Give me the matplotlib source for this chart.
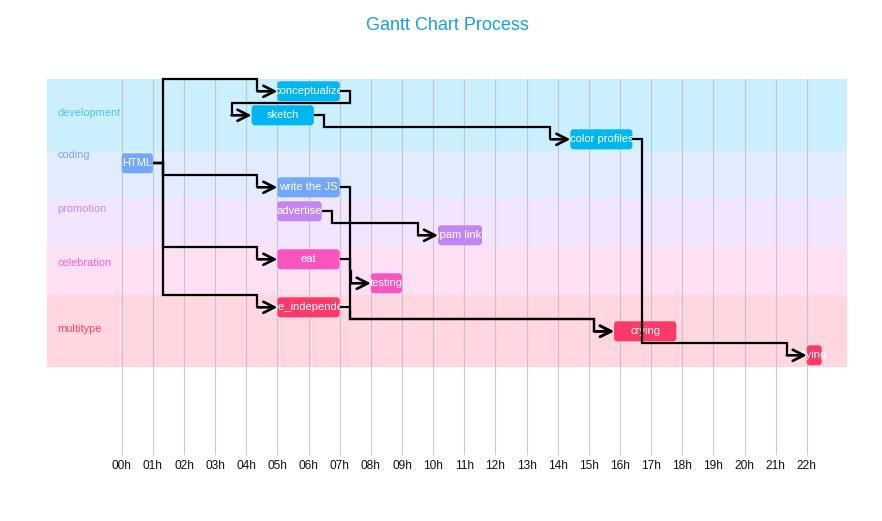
import matplotlib
matplotlib.use("Agg")
import matplotlib.pyplot as plt
from matplotlib.patches import FancyBboxPatch

plt.rcParams['font.family'] = ['Liberation Sans', 'DejaVu Sans']

# ---------------- data ----------------
categories = ['development', 'coding', 'promotion', 'celebration', 'multitype']
cat_rows = [(0, 3), (3, 5), (5, 7), (7, 9), (9, 12)]          # row spans of each group
cat_label_y = [1.40, 3.15, 5.40, 7.65, 10.40]
band_colors = ['#cbeffd', '#e1ecfe', '#f2e5fd', '#fde0f3', '#ffd7e0']
bar_colors = ['#00b6f1', '#72a7f9', '#c286f2', '#f955be', '#fb3a69']
label_colors = ['#4cc4ee', '#7ba9f4', '#c48cf1', '#f565c6', '#f5456f']

tasks = ['conceptualize', 'sketch', 'color profiles', 'HTML', 'write the JS',
         'advertise', 'spam links', 'eat', 'testing', 'type_independent',
         'crying', 'flying']
task_cat = [0, 0, 0, 1, 1, 2, 2, 3, 3, 4, 4, 4]
start_h = [5.0, 4.17, 14.41, 0.0, 5.0, 5.0, 10.16, 5.0, 8.0, 5.0, 15.81, 22.0]
end_h = [7.0, 6.17, 16.40, 1.0, 7.0, 6.42, 11.57, 7.0, 9.0, 7.0, 17.81, 22.48]

dependencies = [
    ('HTML', 'conceptualize'),
    ('HTML', 'write the JS'),
    ('HTML', 'eat'),
    ('HTML', 'type_independent'),
    ('conceptualize', 'sketch'),
    ('sketch', 'color profiles'),
    ('advertise', 'spam links'),
    ('eat', 'testing'),
    ('write the JS', 'crying'),
    ('type_independent', 'crying'),
    ('color profiles', 'flying'),
]

hours = list(range(23))
hour_labels = ['00h', '01h', '02h', '03h', '04h', '05h', '06h', '07h', '08h',
               '09h', '10h', '11h', '12h', '13h', '14h', '15h', '16h', '17h',
               '18h', '19h', '20h', '21h', '22h']

title = 'Gantt Chart Process'

# ---------------- layout ----------------
W, H = 882, 521
PX_H = 31.14      # pixels per hour
PX_R = 24.0       # pixels per row
fig = plt.figure(figsize=(W / 100, H / 100), dpi=100)
ax_left, ax_right, ax_top, ax_bottom = 46.7, 846.7, 79.3, 455.0
ax = fig.add_axes([ax_left / W, 1 - ax_bottom / H,
                   (ax_right - ax_left) / W, (ax_bottom - ax_top) / H])
x0 = (ax_left - 121.7) / PX_H
x1 = (ax_right - 121.7) / PX_H
ybot = (ax_bottom - ax_top) / PX_R
ax.set_xlim(x0, x1)
ax.set_ylim(ybot, 0)
for s in ax.spines.values():
    s.set_visible(False)
ax.set_yticks([])
ax.set_xticks(hours)
ax.set_xticklabels(hour_labels, fontsize=8.6, color='#111111')
ax.tick_params(axis='x', length=0, pad=3.5)

# bands + group labels
for i, (r0, r1) in enumerate(cat_rows):
    ax.axhspan(r0, r1, color=band_colors[i], lw=0, zorder=0)
    ax.text(x0 + 10.5 / PX_H, cat_label_y[i], categories[i], color=label_colors[i],
            fontsize=7.9, ha='left', va='center', zorder=1)

# grid lines
ax.vlines(hours, 0, ybot, colors='#b9bfc6', lw=0.8, alpha=0.8, zorder=1)

# bars
bar_h = 20 / PX_R
for i, t in enumerate(tasks):
    s, e = start_h[i], end_h[i]
    patch = FancyBboxPatch((s, i + (1 - bar_h) / 2), e - s, bar_h,
                           boxstyle='round,pad=0,rounding_size=0.1',
                           mutation_aspect=PX_H / PX_R,
                           fc=bar_colors[task_cat[i]], ec='none', zorder=2)
    ax.add_patch(patch)
    ax.text((s + e) / 2, i + 0.5, t, color='white', fontsize=8.0,
            ha='center', va='center', zorder=3)

# dependency arrows
d_out = 10 / PX_H
d_in = 20 / PX_H
for src, dst in dependencies:
    si = tasks.index(src)
    di = tasks.index(dst)
    sx = end_h[si]
    sy = si + 0.5
    tx = start_h[di]
    ty = di + 0.5
    xs = [sx, sx + d_out, sx + d_out, tx - d_in, tx - d_in]
    ys = [sy, sy, di, di, ty]
    ax.plot(xs, ys, color='black', lw=1.6, solid_joinstyle='miter',
            solid_capstyle='butt', zorder=4, clip_on=False)
    ax.annotate('', xy=(tx, ty), xytext=(tx - d_in, ty),
                arrowprops=dict(arrowstyle='->,head_length=0.8,head_width=0.4',
                                color='black', lw=1.9, shrinkA=0, shrinkB=0,
                                mutation_scale=10),
                zorder=4, annotation_clip=False)

fig.text(447 / W, 1 - 25 / H, title, color='#1d9bea', fontsize=13,
         ha='center', va='center')

fig.savefig('out.png', dpi=100)
